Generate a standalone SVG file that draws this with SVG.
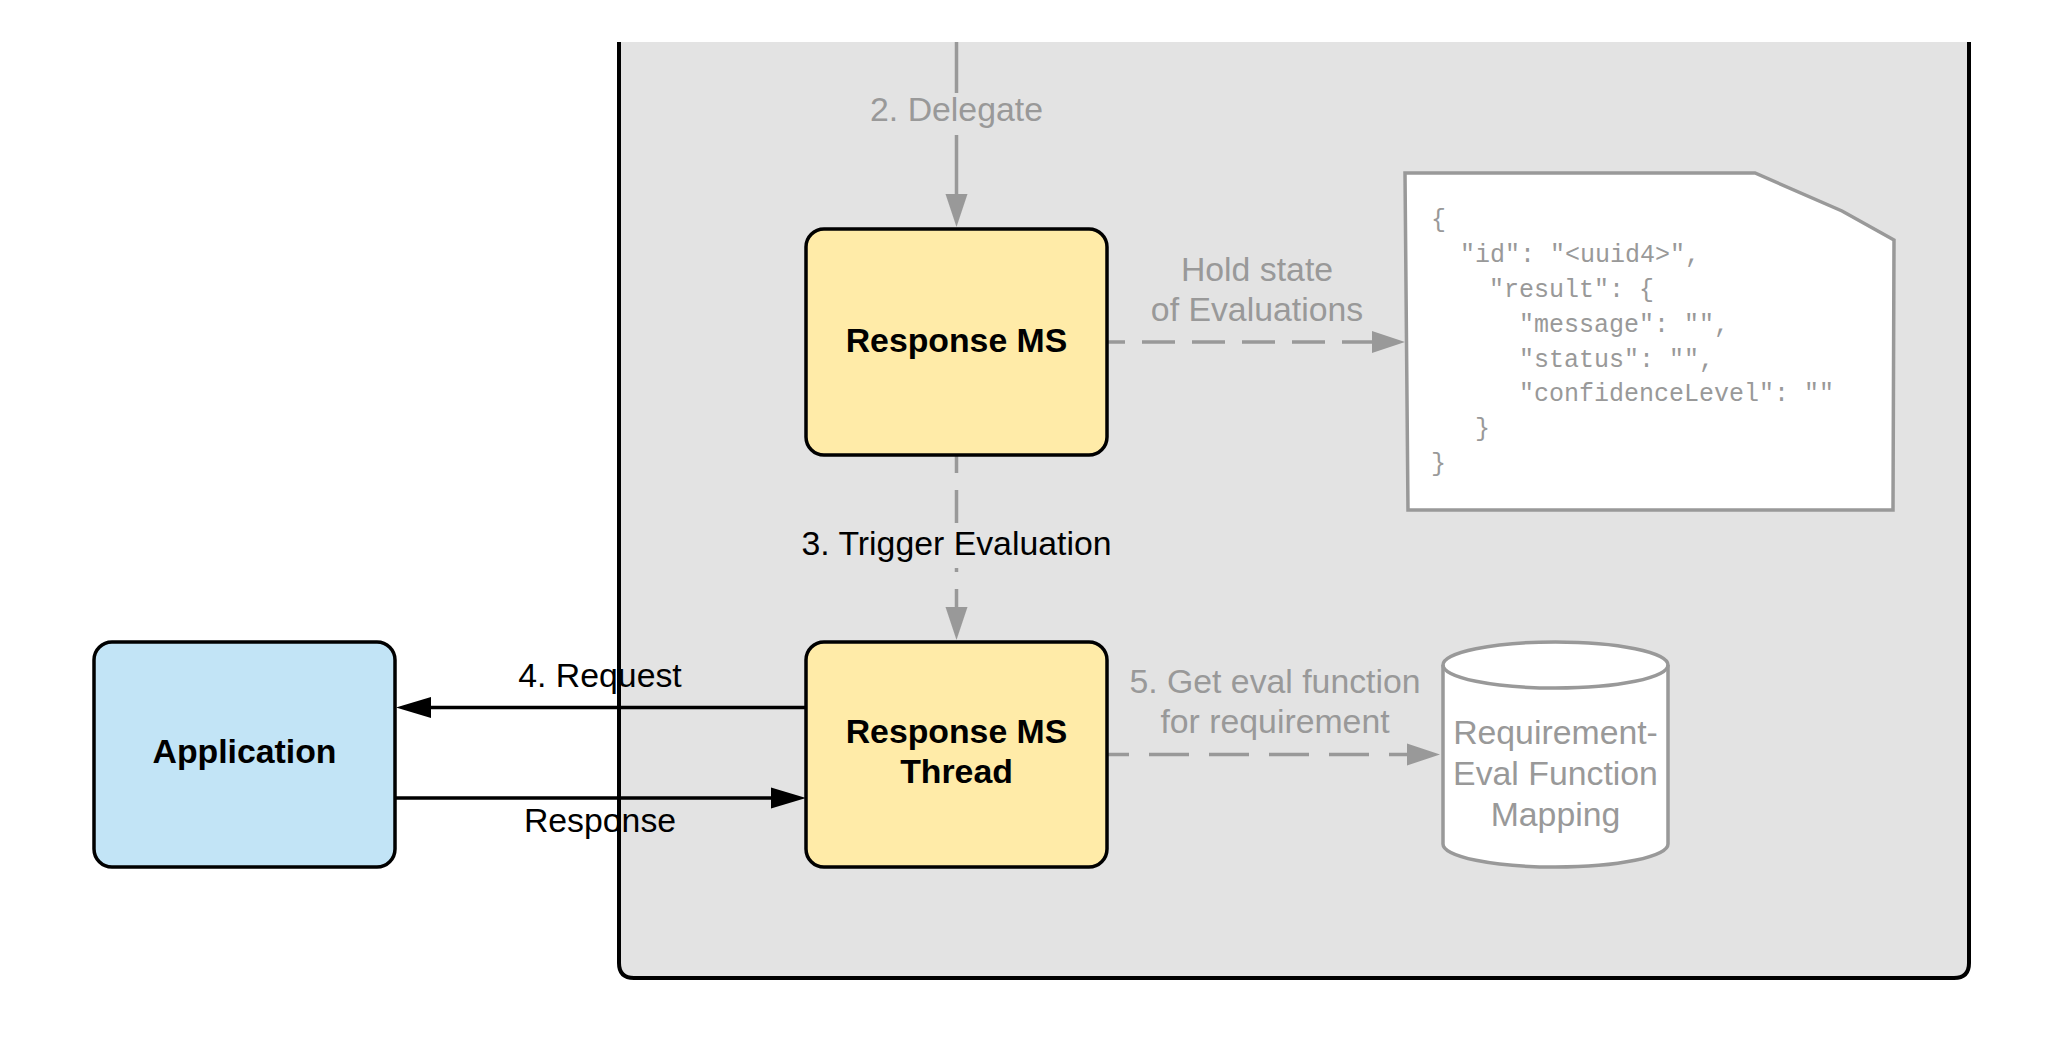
<svg xmlns="http://www.w3.org/2000/svg" width="2059" height="1052" viewBox="0 0 2059 1052">
  <style>
    .lbl { font-family: "Liberation Sans", Arial, sans-serif; font-size: 33.8px; text-anchor: middle; }
    .grey { fill: #999999; }
    .black { fill: #000000; }
    .bold { font-weight: bold; }
    .mono { font-family: "Liberation Mono", "Courier New", monospace; font-size: 25px; fill: #999999; }
    .box { stroke: #000000; stroke-width: 3.5; }
    .yellow { fill: #ffeba8; }
    .blue { fill: #c2e4f6; }
    .gline { fill: none; stroke: #999999; stroke-width: 3.5; }
    .bline { fill: none; stroke: #000000; stroke-width: 3.5; }
  </style>
  <defs>
    <marker id="ag" markerUnits="userSpaceOnUse" markerWidth="34" markerHeight="22" refX="0" refY="11" orient="auto" overflow="visible">
      <path d="M0,0 L33,11 L0,22 Z" fill="#999999"/>
    </marker>
    <marker id="ab" markerUnits="userSpaceOnUse" markerWidth="36" markerHeight="22" refX="0" refY="10.5" orient="auto" overflow="visible">
      <path d="M0,0 L35,10.5 L0,21 Z" fill="#000000"/>
    </marker>
  </defs>

  <rect x="0" y="0" width="2059" height="1052" fill="#ffffff"/>

  <g id="container">
    <path d="M619,42 V963 Q619,978 634,978 H1954 Q1969,978 1969,963 V42" fill="#e3e3e3" stroke="#000000" stroke-width="4"/>
  </g>

  <g id="connectors">
    <!-- 2. Delegate -->
    <path class="gline" d="M956.5,42 V93 M956.5,135 V194" marker-end="url(#ag)"/>
    <text class="lbl grey" x="956.5" y="121">2. Delegate</text>

    <!-- Hold state -->
    <path class="gline" d="M1107,342 H1372" stroke-dasharray="33 17" stroke-dashoffset="15" marker-end="url(#ag)"/>
    <text class="lbl grey" x="1257" y="281">Hold state</text>
    <text class="lbl grey" x="1257" y="321">of Evaluations</text>

    <!-- 3. Trigger Evaluation -->
    <path class="gline" d="M956.5,455 V524" stroke-dasharray="33 17" stroke-dashoffset="15"/>
    <path class="gline" d="M956.5,568 V607" stroke-dasharray="33 17" stroke-dashoffset="29" marker-end="url(#ag)"/>
    <text class="lbl black" x="956.5" y="555">3. Trigger Evaluation</text>

    <!-- 4. Request -->
    <path class="bline" d="M806,707.5 H431" marker-end="url(#ab)"/>
    <text class="lbl black" x="600" y="687">4. Request</text>

    <!-- Response -->
    <path class="bline" d="M395,798 H771" marker-end="url(#ab)"/>
    <text class="lbl black" x="600" y="832">Response</text>

    <!-- 5. Get eval function -->
    <path class="gline" d="M1107,754.5 H1407" stroke-dasharray="40 20" stroke-dashoffset="18" marker-end="url(#ag)"/>
    <text class="lbl grey" x="1275" y="693">5. Get eval function</text>
    <text class="lbl grey" x="1275" y="733">for requirement</text>
  </g>

  <g id="response-ms">
    <rect class="box yellow" x="806" y="229" width="301" height="226" rx="18" ry="18"/>
    <text class="lbl bold black" x="956.5" y="352">Response MS</text>
  </g>

  <g id="response-ms-thread">
    <rect class="box yellow" x="806" y="642" width="301" height="225" rx="18" ry="18"/>
    <text class="lbl bold black" x="956.5" y="743">Response MS</text>
    <text class="lbl bold black" x="956.5" y="783">Thread</text>
  </g>

  <g id="application">
    <rect class="box blue" x="94" y="642" width="301" height="225" rx="18" ry="18"/>
    <text class="lbl bold black" x="244.5" y="763">Application</text>
  </g>

  <g id="state-document">
    <path d="M1405,173 L1755,173 L1842,211 L1894,240 L1893,510 L1408,510 Z" fill="#ffffff" stroke="#999999" stroke-width="3.5" stroke-linejoin="miter"/>
    <text class="mono" x="1431" y="227">{</text>
    <text class="mono" x="1460" y="262">"id": "&lt;uuid4&gt;",</text>
    <text class="mono" x="1489" y="297">"result": {</text>
    <text class="mono" x="1519" y="332">"message": "",</text>
    <text class="mono" x="1519" y="367">"status": "",</text>
    <text class="mono" x="1519" y="401">"confidenceLevel": ""</text>
    <text class="mono" x="1475" y="436">}</text>
    <text class="mono" x="1431" y="471">}</text>
  </g>

  <g id="mapping-db">
    <path d="M1443,665 V844 A112.5,23 0 0 0 1668,844 V665 A112.5,23 0 0 0 1443,665 Z" fill="#ffffff" stroke="#999999" stroke-width="3.5"/>
    <path d="M1443,665 A112.5,23 0 0 0 1668,665" fill="none" stroke="#999999" stroke-width="3.5"/>
    <text class="lbl grey" x="1555.5" y="744">Requirement-</text>
    <text class="lbl grey" x="1555.5" y="785">Eval Function</text>
    <text class="lbl grey" x="1555.5" y="826">Mapping</text>
  </g>
</svg>
